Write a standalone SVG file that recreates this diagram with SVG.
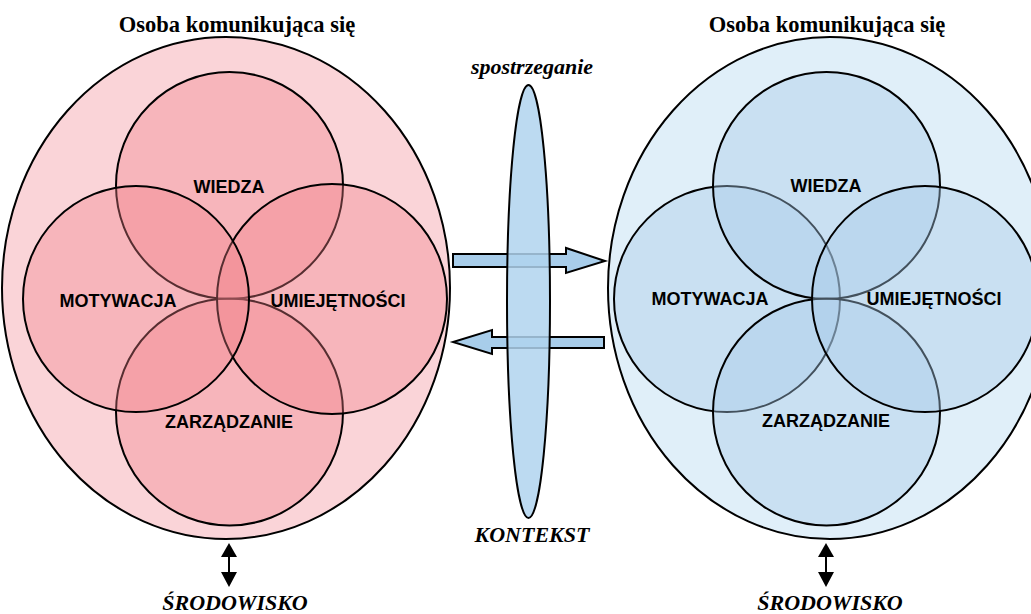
<svg xmlns="http://www.w3.org/2000/svg" width="1031" height="614" viewBox="0 0 1031 614">
<defs>
<style>
.big{stroke:#000;stroke-width:2}
.pc{fill:#f08088;fill-opacity:0.36;stroke:#000;stroke-width:2}
.bc{fill:#a8cbe8;fill-opacity:0.4;stroke:#000;stroke-width:2}
.lbl{font-family:"Liberation Sans",Arial,sans-serif;font-weight:bold;font-size:18px;text-anchor:middle;fill:#000}
.ttl{font-family:"Liberation Serif","Times New Roman",serif;font-weight:bold;font-size:22.5px;text-anchor:middle;fill:#000}
.it{font-family:"Liberation Serif","Times New Roman",serif;font-weight:bold;font-style:italic;font-size:22px;text-anchor:middle;fill:#000}
.arr{fill:#a8cdea;stroke:#000;stroke-width:2;stroke-linejoin:miter}
</style>
</defs>
<rect width="1031" height="614" fill="#fff"/>
<g id="left-person">
<ellipse class="big" cx="226" cy="288" rx="224" ry="251" fill="#fad4d8"/>
<circle class="pc" cx="229.5" cy="185.5" r="113.5"/>
<circle class="pc" cx="229.5" cy="412" r="113.5"/>
<circle class="pc" cx="332" cy="299" r="115"/>
<circle class="pc" cx="136" cy="299" r="113"/>
<text class="lbl" x="229" y="193">WIEDZA</text>
<text class="lbl" x="118" y="307">MOTYWACJA</text>
<text class="lbl" x="338" y="307">UMIEJĘTNOŚCI</text>
<text class="lbl" x="229" y="428">ZARZĄDZANIE</text>
</g>
<g id="right-person">
<ellipse class="big" cx="830" cy="288" rx="222" ry="251" fill="#e0eff9"/>
<circle class="bc" cx="727" cy="299" r="113"/>
<circle class="bc" cx="826.5" cy="185.5" r="113.5"/>
<circle class="bc" cx="826.5" cy="412" r="113.5"/>
<circle class="bc" cx="925" cy="299" r="113"/>
<text class="lbl" x="826" y="192">WIEDZA</text>
<text class="lbl" x="710" y="305">MOTYWACJA</text>
<text class="lbl" x="934" y="305">UMIEJĘTNOŚCI</text>
<text class="lbl" x="826" y="427">ZARZĄDZANIE</text>
</g>
<g id="connectors">
<polygon class="arr" points="453,254 566,254 566,248 605,261 566,273 566,267 453,267"/>
<polygon class="arr" points="604,337 492,337 492,330 453,342 492,354 492,348 604,348"/>
<g fill="#000" stroke="#000" stroke-width="2">
<line x1="229" y1="554" x2="229" y2="576"/>
<polygon points="229,543 237,557 221,557" stroke="none"/>
<polygon points="229,587 237,572 221,572" stroke="none"/>
<line x1="826" y1="554" x2="826" y2="576"/>
<polygon points="826,543 834,557 818,557" stroke="none"/>
<polygon points="826,587 834,572 818,572" stroke="none"/>
</g>
</g>
<g id="lens">
<ellipse cx="528.5" cy="301.5" rx="21.5" ry="216.5" fill="#b0d3ef" fill-opacity="0.85" stroke="#000" stroke-width="2"/>
</g>
<g id="labels">
<text class="ttl" x="237" y="32">Osoba komunikująca się</text>
<text class="ttl" x="827" y="32">Osoba komunikująca się</text>
<text class="it" x="532" y="74">spostrzeganie</text>
<text class="it" x="532" y="542">KONTEKST</text>
<text class="it" x="235" y="610">ŚRODOWISKO</text>
<text class="it" x="830" y="610">ŚRODOWISKO</text>
</g>
</svg>
